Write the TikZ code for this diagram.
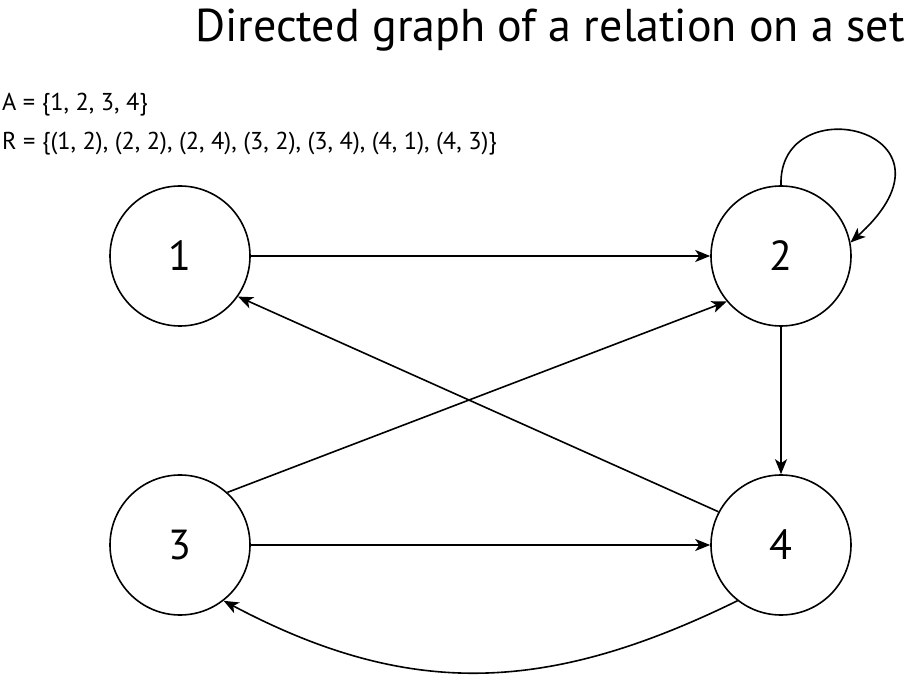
\documentclass[tikz,border=0pt]{standalone}
\usepackage{fontspec}
\setmainfont{PT Sans}
\usetikzlibrary{arrows.meta}
\tikzset{%
	vertex/.style={circle,draw,line width=1.6pt,minimum size=140pt,inner sep=0pt,font=\fontsize{42}{50}\selectfont},
	edge/.style={-{Stealth[length=15pt,width=12pt,inset=4pt]},line width=1.6pt},
	label/.style={inner sep=0pt,font=\fontsize{24.4}{30}\selectfont},
}

\begin{document}
\begin{tikzpicture}[x=1pt,y=-1pt]
			\useasboundingbox (0,0) rectangle (906,676);
			
			%napisi
			\node[label,anchor=base east,font=\fontsize{46}{54}\selectfont] (title) at (905,42) {Directed graph of a relation on a set};
			\node[label,anchor=base west] (setA) at (2,111) {A = \{1, 2, 3, 4\}};
			\node[label,anchor=base west] (relR) at (2,150) {R = \{(1, 2), (2, 2), (2, 4), (3, 2), (3, 4), (4, 1), (4, 3)\}};
			
			%vozlisca
			\node[vertex] (n1) at (180,256) {1};
			\node[vertex] (n2) at (781,256) {2};
			\node[vertex] (n3) at (180,545) {3};
			\node[vertex] (n4) at (781,545) {4};
			
			%povezave
			\draw[edge] (n1) -- (n2);
			\draw[edge] (n2) -- (n4);
			\draw[edge] (n3) -- (n4);
			\draw[edge] (n3.48) -- (n2.220);
			\draw[edge] (n4.152) -- (n1.325);
			\draw[edge] (n2.90) .. controls (778,85) and (975,130) .. (n2.11);
			\draw[edge] (n4.232) .. controls (547,694) and (409,699) .. (n3.308);
		\end{tikzpicture}
\end{document}
